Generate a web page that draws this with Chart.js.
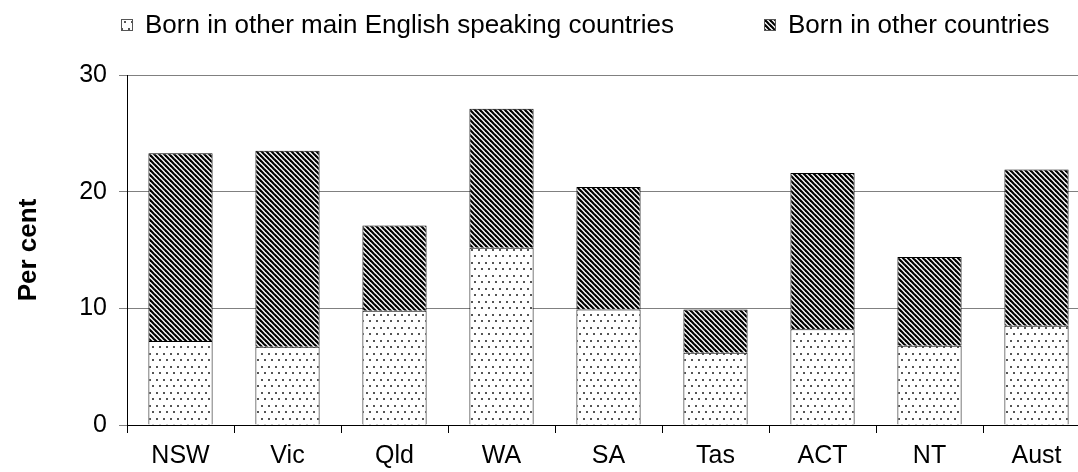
<!DOCTYPE html>
<html>
<head>
<meta charset="utf-8">
<script src="https://cdn.jsdelivr.net/npm/chart.js@4.4.0/dist/chart.umd.min.js"></script>
<style>
html,body{margin:0;padding:0;background:#fff;overflow:hidden;}
#wrap{width:1078px;height:472px;overflow:hidden;position:relative;}
#chart{position:absolute;left:0;top:0;}
</style>
</head>
<body>
<div id="wrap"><canvas id="chart" width="1100" height="472"></canvas></div>
<script>
const states = ['NSW','Vic','Qld','WA','SA','Tas','ACT','NT','Aust'];
const bornEnglish = [7.2,6.7,9.8,15.2,9.9,6.2,8.2,6.8,8.5];
const bornOther = [16.1,16.8,7.3,11.9,10.5,3.7,13.4,7.6,13.4];
const yTicks = [0,10,20,30];
const seriesNames = ['Born in other main English speaking countries','Born in other countries'];

const FONT = '"Liberation Sans", Arial, sans-serif';
let canvas = document.getElementById('chart');
let mainCtx = canvas.getContext('2d');

// dotted fill for the first series
function dotPattern(){
    let c = document.createElement('canvas');
    c.width = 14; c.height = 13;
    let x = c.getContext('2d');
    x.fillStyle = '#fff';
    x.fillRect(0,0,14,13);
    x.fillStyle = '#555';
    [[2,2],[9,2],[5,8],[12,8]].forEach(p => x.fillRect(p[0],p[1],2,2));
    return mainCtx.createPattern(c,'repeat');
}

// "\" hatch for the second series
function hatchPattern(){
    let p = 5;
    let c = document.createElement('canvas');
    c.width = p; c.height = p;
    let x = c.getContext('2d');
    x.fillStyle = '#fff';
    x.fillRect(0,0,p,p);
    x.strokeStyle = '#000';
    x.lineWidth = 2.2;
    for(let k=-1;k<=1;k++){
        x.beginPath();
        x.moveTo(k*p-1,-1);
        x.lineTo(k*p+p+1,p+1);
        x.stroke();
    }
    return mainCtx.createPattern(c,'repeat');
}

const dots = dotPattern();
const hatch = hatchPattern();

const topLegend = {
    id:'topLegend',
    afterDraw(chart){
        const ctx = chart.ctx;
        const xs = [121,764];
        ctx.save();
        ctx.font = '26px ' + FONT;
        ctx.textBaseline = 'middle';
        chart.data.datasets.forEach((ds,i) => {
            ctx.fillStyle = ds.backgroundColor;
            ctx.fillRect(xs[i],19,12,12);
            ctx.strokeStyle = '#555';
            ctx.lineWidth = 1;
            ctx.strokeRect(xs[i]+0.5,19.5,11,11);
            ctx.fillStyle = '#000';
            ctx.fillText(ds.label,xs[i]+24,26);
        });
        ctx.restore();
    }
};

new Chart(canvas,{
    type:'bar',
    data:{
        labels:states,
        datasets:[
            {label:seriesNames[0],data:bornEnglish,backgroundColor:dots,borderColor:'#000',borderWidth:1,barPercentage:0.6,categoryPercentage:1},
            {label:seriesNames[1],data:bornOther,backgroundColor:hatch,borderColor:'#000',borderWidth:1,barPercentage:0.6,categoryPercentage:1}
        ]
    },
    options:{
        responsive:false,
        animation:false,
        devicePixelRatio:1,
        layout:{padding:{top:75,right:10,left:0,bottom:0}},
        plugins:{legend:{display:false},tooltip:{enabled:false}},
        scales:{
            x:{
                stacked:true,
                afterFit:s => { s.height = 47; },
                grid:{offset:true,drawOnChartArea:false,color:'#000',tickLength:8},
                border:{color:'#000',width:1},
                ticks:{color:'#000',font:{family:FONT,size:25},padding:8,maxRotation:0}
            },
            y:{
                stacked:true,
                min:yTicks[0],
                max:yTicks[yTicks.length-1],
                afterFit:s => { s.width = 127; },
                afterBuildTicks:s => { s.ticks = yTicks.map(v => ({value:v})); },
                grid:{color:'#808080',tickLength:8},
                border:{color:'#000',width:1},
                ticks:{color:'#000',font:{family:FONT,size:25},padding:12},
                title:{display:true,text:'Per cent',color:'#000',font:{family:FONT,size:26,weight:'bold'},padding:{top:13,bottom:0}}
            }
        }
    },
    plugins:[topLegend]
});
</script>
</body>
</html>
